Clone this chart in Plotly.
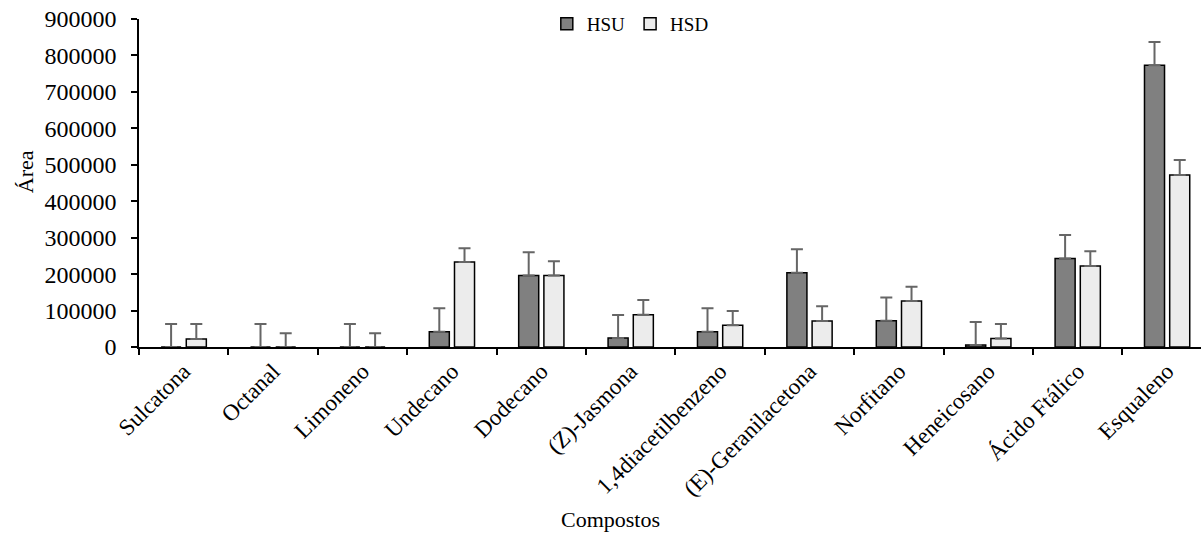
import plotly.graph_objects as go

categories = ["Sulcatona", "Octanal", "Limoneno", "Undecano", "Dodecano", "(Z)-Jasmona",
              "1,4diacetilbenzeno", "(E)-Geranilacetona", "Norfitano", "Heneicosano",
              "Ácido Ftálico", "Esqualeno"]
hsu = [0, 0, 0, 42000, 196000, 25000, 42000, 204000, 72000, 5500, 243000, 773000]
hsu_err = [63000, 63000, 63000, 64000, 64000, 63000, 64000, 64000, 64000, 63000, 64000, 64000]
hsd = [22000, 0, 0, 233000, 196000, 88500, 60000, 71000, 126000, 23000, 222000, 472000]
hsd_err = [41000, 38000, 38000, 38000, 39000, 40500, 39000, 40500, 39000, 40000, 41000, 41000]
y_ticks = [0, 100000, 200000, 300000, 400000, 500000, 600000, 700000, 800000, 900000]

FONT = "Liberation Serif, Times New Roman, serif"

fig = go.Figure()
fig.add_trace(go.Bar(
    name="HSU", x=categories, y=hsu,
    marker=dict(color="#808080", line=dict(color="black", width=1.5)),
    error_y=dict(type="data", array=hsu_err, arrayminus=[0] * len(hsu), symmetric=False,
                 color="#666666", thickness=2, width=6),
))
fig.add_trace(go.Bar(
    name="HSD", x=categories, y=hsd,
    marker=dict(color="#ececec", line=dict(color="black", width=1.5)),
    error_y=dict(type="data", array=hsd_err, arrayminus=[0] * len(hsd), symmetric=False,
                 color="#666666", thickness=2, width=6),
))

fig.update_layout(
    width=1201, height=538,
    margin=dict(l=139, r=0, t=19, b=191),
    plot_bgcolor="white", paper_bgcolor="white",
    barmode="group", bargap=0.436, bargroupgap=0.205,
    font=dict(family=FONT, size=20, color="black"),
    showlegend=True,
    legend=dict(orientation="h", x=0.384, xanchor="left", y=0.985, yanchor="middle",
                font=dict(family=FONT, size=19, color="black"),
                bgcolor="rgba(0,0,0,0)", itemwidth=30),
    xaxis=dict(
        type="category", range=[-0.5, 11.379],
        showline=True, linecolor="black", linewidth=1.5,
        ticks="outside", tickson="boundaries", ticklen=6, tickcolor="black", tickwidth=1.5,
        tickangle=-45, tickfont=dict(family=FONT, size=23, color="black"),
        showgrid=False, zeroline=False,
    ),
    yaxis=dict(
        range=[0, 900000], tickvals=y_ticks, ticktext=[str(v) for v in y_ticks],
        showline=True, linecolor="black", linewidth=1.5,
        ticks="outside", ticklen=6, tickcolor="black", tickwidth=1.5,
        ticklabelstandoff=10,
        tickfont=dict(family=FONT, size=24, color="black"),
        showgrid=False, zeroline=False,
    ),
    annotations=[
        dict(text="Área", xref="paper", yref="paper", x=-0.107, y=0.534,
             xanchor="center", yanchor="middle", textangle=-90, showarrow=False,
             font=dict(family=FONT, size=22, color="black")),
        dict(text="Compostos", xref="paper", yref="paper", x=0.4444, y=-0.527,
             xanchor="center", yanchor="middle", showarrow=False,
             font=dict(family=FONT, size=22, color="black")),
    ],
)

fig.write_html("out.html", config={"displayModeBar": False},
               post_script="document.body.style.margin='0';")
